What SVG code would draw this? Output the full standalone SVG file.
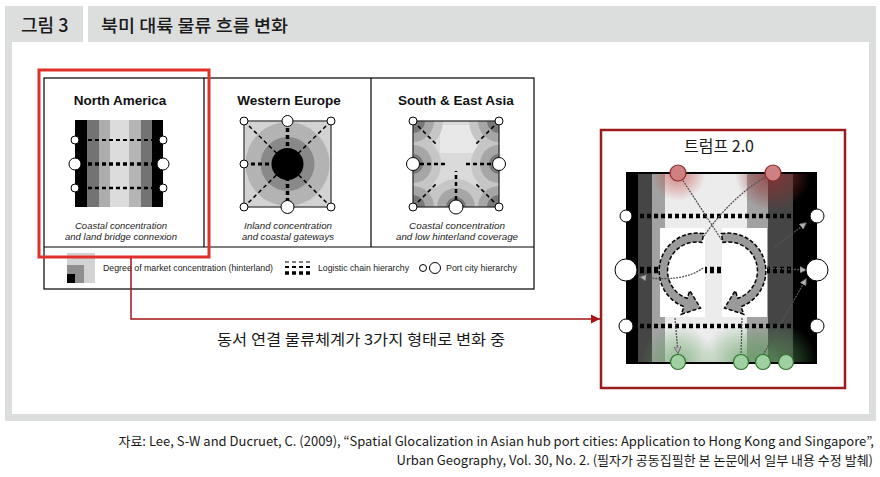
<svg xmlns="http://www.w3.org/2000/svg" width="880" height="477" viewBox="0 0 880 477">
<style>
.lat{font-family:"Liberation Sans",Arial,sans-serif}
.ttl{font-family:"Liberation Sans",Arial,sans-serif;font-weight:700;font-size:13.5px;fill:#111}
.cap{font-family:"Liberation Sans",Arial,sans-serif;font-style:italic;font-size:9px;fill:#222}
.leg{font-family:"Liberation Sans",Arial,sans-serif;font-size:9px;fill:#222}
.kr{font-family:"Noto Sans CJK KR","Noto Sans",sans-serif;fill:#1a1a1a}
.wc{fill:#fff;stroke:#000;stroke-width:1}
.ds{fill:none;stroke:#000;stroke-dasharray:4 3}
.thin{fill:none;stroke:#555;stroke-width:1.3;stroke-dasharray:2 1}
.rc{fill:#cf8080;stroke:#8a2a2a;stroke-width:1.2}
.gc{fill:#9fd09f;stroke:#2f6f2f;stroke-width:1.2}
.arc{fill:#9a9a9a;stroke:#000;stroke-width:1.5;stroke-dasharray:4 2}
</style>
<defs>
<radialGradient id="rh"><stop offset="0" stop-color="#c0504d" stop-opacity="0.7"/><stop offset="0.6" stop-color="#c0504d" stop-opacity="0.3"/><stop offset="1" stop-color="#c0504d" stop-opacity="0"/></radialGradient>
<radialGradient id="rh2"><stop offset="0" stop-color="#8e3030" stop-opacity="0.8"/><stop offset="0.6" stop-color="#8e3030" stop-opacity="0.4"/><stop offset="1" stop-color="#8e3030" stop-opacity="0"/></radialGradient>
<radialGradient id="gh"><stop offset="0" stop-color="#5a9a5a" stop-opacity="0.65"/><stop offset="0.6" stop-color="#5a9a5a" stop-opacity="0.3"/><stop offset="1" stop-color="#5a9a5a" stop-opacity="0"/></radialGradient>
<clipPath id="tb"><rect x="626" y="173" width="191" height="190"/></clipPath>
<clipPath id="sa"><rect x="413" y="121" width="86" height="86"/></clipPath>
<marker id="ga" viewBox="0 0 10 10" refX="9" refY="5" markerWidth="7" markerHeight="7" markerUnits="userSpaceOnUse" orient="auto"><path d="M0,0 L10,5 L0,10 Z" fill="#b0b0b0" stroke="#555" stroke-width="1"/></marker>
<marker id="ra" viewBox="0 0 10 10" refX="10" refY="5" markerWidth="9" markerHeight="15" markerUnits="userSpaceOnUse" orient="auto"><path d="M0,0 L10,5 L0,10 Z" fill="#a31515"/></marker>
</defs>

<g id="frame">
<rect x="5" y="6" width="871" height="415" fill="#dcdddd"/>
<rect x="12" y="42" width="857" height="372" fill="#fff"/>
<rect x="83" y="6" width="5" height="36" fill="#fff"/>
<text class="kr" x="21" y="32" font-size="18" font-weight="500">그림 3</text>
<text class="kr" x="101" y="32" font-size="17" font-weight="500" textLength="187" lengthAdjust="spacingAndGlyphs">북미 대륙 물류 흐름 변화</text>
</g>

<g id="models">
<rect x="44" y="78" width="490" height="211" fill="#fff" stroke="#000" stroke-width="1.2"/>
<line x1="204" y1="78" x2="204" y2="247" stroke="#000" stroke-width="1.2"/>
<line x1="371" y1="78" x2="371" y2="247" stroke="#000" stroke-width="1.2"/>
<line x1="44" y1="247" x2="534" y2="247" stroke="#000" stroke-width="1.2"/>
</g>

<g id="north-america">
<text class="ttl" x="120" y="105" text-anchor="middle">North America</text>
<rect x="75" y="120" width="12" height="87" fill="#000"/>
<rect x="87" y="120" width="12" height="87" fill="#737373"/>
<rect x="99" y="120" width="11" height="87" fill="#adadad"/>
<rect x="110" y="120" width="19" height="87" fill="#dcdcdc"/>
<rect x="129" y="120" width="12" height="87" fill="#b5b5b5"/>
<rect x="141" y="120" width="11" height="87" fill="#737373"/>
<rect x="152" y="120" width="11" height="87" fill="#000"/>
<line class="ds" x1="88" y1="140" x2="152" y2="140" stroke-width="1.8"/>
<line class="ds" x1="88" y1="164" x2="152" y2="164" stroke-width="3.5"/>
<line class="ds" x1="88" y1="188" x2="152" y2="188" stroke-width="2.5"/>
<circle class="wc" cx="75" cy="140" r="4"/><circle class="wc" cx="163" cy="140" r="4"/>
<circle class="wc" cx="75" cy="164" r="6"/><circle class="wc" cx="163" cy="164" r="6"/>
<circle class="wc" cx="75" cy="188" r="4"/><circle class="wc" cx="163" cy="188" r="4"/>
<text class="cap" x="121" y="229" text-anchor="middle" textLength="92" lengthAdjust="spacingAndGlyphs">Coastal concentration</text>
<text class="cap" x="121" y="240" text-anchor="middle" textLength="112" lengthAdjust="spacingAndGlyphs">and land bridge connexion</text>
</g>

<g id="western-europe">
<text class="ttl" x="289" y="105" text-anchor="middle">Western Europe</text>
<rect x="244" y="121" width="87" height="86" fill="#d2d2d2" stroke="#555" stroke-width="1.5"/>
<circle cx="287.5" cy="164" r="42" fill="#b3b3b3"/>
<circle cx="287.5" cy="164" r="27" fill="#898989"/>
<circle cx="287.5" cy="164" r="16" fill="#000"/>
<line class="ds" x1="244" y1="121" x2="331" y2="207" stroke-width="1.5" stroke-dasharray="3 2.5"/>
<line class="ds" x1="331" y1="121" x2="244" y2="207" stroke-width="1.5" stroke-dasharray="3 2.5"/>
<line class="ds" x1="287.5" y1="121" x2="287.5" y2="207" stroke-width="3.5"/>
<line class="ds" x1="244" y1="164" x2="271" y2="164" stroke-width="3"/>
<circle class="wc" cx="244" cy="121" r="4"/><circle class="wc" cx="331" cy="121" r="4"/>
<circle class="wc" cx="244" cy="207" r="4"/><circle class="wc" cx="331" cy="207" r="4"/>
<circle class="wc" cx="287.5" cy="121" r="5.5"/><circle class="wc" cx="287.5" cy="207" r="6.5"/>
<circle class="wc" cx="244" cy="164" r="4"/>
<text class="cap" x="288" y="229" text-anchor="middle" textLength="88" lengthAdjust="spacingAndGlyphs">Inland concentration</text>
<text class="cap" x="288" y="240" text-anchor="middle" textLength="92" lengthAdjust="spacingAndGlyphs">and coastal gateways</text>
</g>

<g id="south-east-asia">
<text class="ttl" x="456" y="105" text-anchor="middle">South &amp; East Asia</text>
<rect x="413" y="121" width="86" height="86" fill="#dadada"/>
<rect x="440" y="125" width="37" height="28" fill="#e8e8e8"/>
<g clip-path="url(#sa)">
<g fill="#c6c6c6"><circle cx="413" cy="121" r="30"/><circle cx="499" cy="121" r="30"/><circle cx="413" cy="207" r="30"/><circle cx="499" cy="207" r="30"/><circle cx="413" cy="164" r="28"/><circle cx="499" cy="164" r="28"/><circle cx="456" cy="207" r="28"/></g>
<g fill="#a6a6a6"><circle cx="413" cy="121" r="21"/><circle cx="499" cy="121" r="21"/><circle cx="413" cy="207" r="21"/><circle cx="499" cy="207" r="21"/><circle cx="413" cy="164" r="19"/><circle cx="499" cy="164" r="19"/><circle cx="456" cy="207" r="19"/></g>
<g fill="#787878"><circle cx="413" cy="121" r="12"/><circle cx="499" cy="121" r="12"/><circle cx="413" cy="207" r="12"/><circle cx="499" cy="207" r="12"/><circle cx="413" cy="164" r="10"/><circle cx="499" cy="164" r="10"/><circle cx="456" cy="207" r="10"/></g>
</g>
<rect x="413" y="121" width="86" height="86" fill="none" stroke="#222" stroke-width="1.2"/>
<line class="ds" x1="413" y1="121" x2="437" y2="145" stroke-width="1.6" stroke-dasharray="3 2"/>
<line class="ds" x1="499" y1="121" x2="475" y2="145" stroke-width="1.6" stroke-dasharray="3 2"/>
<line class="ds" x1="413" y1="207" x2="437" y2="183" stroke-width="1.6" stroke-dasharray="3 2"/>
<line class="ds" x1="499" y1="207" x2="475" y2="183" stroke-width="1.6" stroke-dasharray="3 2"/>
<line class="ds" x1="413" y1="164" x2="446" y2="164" stroke-width="2.5"/>
<line class="ds" x1="466" y1="164" x2="499" y2="164" stroke-width="2.5"/>
<line class="ds" x1="456" y1="207" x2="456" y2="171" stroke-width="2.5"/>
<circle class="wc" cx="413" cy="121" r="4"/><circle class="wc" cx="499" cy="121" r="4"/>
<circle class="wc" cx="413" cy="207" r="4"/><circle class="wc" cx="499" cy="207" r="4"/>
<circle class="wc" cx="413" cy="164" r="6.5"/><circle class="wc" cx="499" cy="164" r="6.5"/>
<circle class="wc" cx="456" cy="207" r="7"/>
<text class="cap" x="457" y="229" text-anchor="middle" textLength="96" lengthAdjust="spacingAndGlyphs">Coastal concentration</text>
<text class="cap" x="457" y="240" text-anchor="middle" textLength="122" lengthAdjust="spacingAndGlyphs">and low hinterland coverage</text>
</g>

<g id="legend">
<rect x="67" y="253" width="28" height="30" fill="#d3d3d3"/>
<rect x="67" y="265" width="17" height="18" fill="#8f8f8f"/>
<rect x="67" y="274" width="8" height="9" fill="#000"/>
<text class="leg" x="103" y="271" textLength="170" lengthAdjust="spacingAndGlyphs">Degree of market concentration (hinterland)</text>
<line class="ds" x1="285" y1="262" x2="311" y2="262" stroke-width="1.2"/>
<line class="ds" x1="285" y1="267" x2="311" y2="267" stroke-width="2"/>
<line class="ds" x1="285" y1="273" x2="311" y2="273" stroke-width="3.5"/>
<text class="leg" x="318" y="271" textLength="91" lengthAdjust="spacingAndGlyphs">Logistic chain hierarchy</text>
<circle class="wc" cx="423" cy="268" r="3.5"/>
<circle class="wc" cx="435" cy="268" r="5.5"/>
<text class="leg" x="446" y="271" textLength="71" lengthAdjust="spacingAndGlyphs">Port city hierarchy</text>
</g>

<g id="highlight">
<rect x="39" y="70" width="170" height="187" fill="none" stroke="#e0302a" stroke-width="3"/>
</g>

<g id="connectors">
<path d="M131,258 V319 H600" fill="none" stroke="#a31515" stroke-width="1.5" marker-end="url(#ra)"/>
</g>
<text class="kr" x="361" y="345" font-size="15" text-anchor="middle" textLength="288" lengthAdjust="spacingAndGlyphs">동서 연결 물류체계가 3가지 형태로 변화 중</text>

<g id="trump">
<rect x="601" y="130" width="244" height="258" fill="#fff" stroke="#9b1c1c" stroke-width="2.5"/>
<text class="kr" x="719" y="152" font-size="16" text-anchor="middle">트럼프 2.0</text>
<rect x="626" y="173" width="12" height="190" fill="#000"/>
<rect x="638" y="173" width="14" height="190" fill="#454545"/>
<rect x="652" y="173" width="13" height="190" fill="#a2a2a2"/>
<rect x="665" y="173" width="82" height="190" fill="#ececec"/>
<rect x="747" y="173" width="21" height="190" fill="#a2a2a2"/>
<rect x="768" y="173" width="25" height="190" fill="#454545"/>
<rect x="793" y="173" width="24" height="190" fill="#000"/>
<g clip-path="url(#tb)">
<circle cx="678" cy="173" r="28" fill="url(#rh)"/>
<circle cx="773" cy="173" r="38" fill="url(#rh2)"/>
<circle cx="678" cy="363" r="38" fill="url(#gh)"/>
<circle cx="741" cy="363" r="40" fill="url(#gh)"/>
<circle cx="775" cy="363" r="42" fill="url(#gh)"/>
</g>
<line x1="626" y1="173" x2="817" y2="173" stroke="#000" stroke-width="2"/>
<line x1="626" y1="363" x2="817" y2="363" stroke="#000" stroke-width="2"/>
<line class="ds" x1="640" y1="216" x2="812" y2="216" stroke-width="4.5" stroke-dasharray="8 6"/>
<line class="ds" x1="640" y1="270" x2="812" y2="270" stroke-width="6.5" stroke-dasharray="9 5"/>
<line class="ds" x1="640" y1="326" x2="812" y2="326" stroke-width="4.5" stroke-dasharray="8 6"/>
<rect x="660" y="228" width="45" height="89" fill="#fff"/>
<rect x="722" y="228" width="45" height="89" fill="#fff"/>
<path class="arc" d="M703.6,233.6 A38,38 0 0 0 684,306.7 L681.3,314.2 L700.5,308 L689.8,290.7 L687.1,298.3 A29,29 0 0 1 702,242.4 Z"/>
<path class="arc" d="M721.4,233.6 A38,38 0 0 1 741,306.7 L743.7,314.2 L724.5,308 L735.2,290.7 L737.9,298.3 A29,29 0 0 0 723,242.4 Z"/>
<path class="thin" d="M678,173 L723,242"/>
<path class="thin" d="M773,173 Q735,192 704,236"/>
<path class="thin" d="M703,268 Q683,283 640,277" marker-end="url(#ga)"/>
<path class="thin" d="M767,268 L806,270" marker-end="url(#ga)"/>
<path class="thin" d="M763,355 L806,279" marker-end="url(#ga)"/>
<path class="thin" d="M775,247 L806,223" marker-end="url(#ga)"/>
<path class="thin" d="M675,318 L678,353" marker-end="url(#ga)"/>
<path class="thin" d="M742,318 L741,355"/>
<circle class="rc" cx="678" cy="173" r="8"/>
<circle class="rc" cx="773" cy="173" r="8"/>
<circle class="wc" cx="626" cy="216" r="6"/><circle class="wc" cx="817" cy="216" r="7"/>
<circle class="wc" cx="626" cy="270" r="11"/><circle class="wc" cx="817" cy="270" r="11"/>
<circle class="wc" cx="626" cy="326" r="7"/><circle class="wc" cx="817" cy="326" r="7"/>
<circle class="gc" cx="678" cy="362" r="7.5"/>
<circle class="gc" cx="741" cy="362" r="7.5"/>
<circle class="gc" cx="763" cy="362" r="7.5"/>
<circle class="gc" cx="786" cy="362" r="7.5"/>
</g>

<g id="source">
<text class="kr" x="874" y="446" font-size="13" text-anchor="end">자료: Lee, S-W and Ducruet, C. (2009), “Spatial Glocalization in Asian hub port cities: Application to Hong Kong and Singapore”,</text>
<text class="kr" x="873" y="465" font-size="13" text-anchor="end">Urban Geography, Vol. 30, No. 2. (필자가 공동집필한 본 논문에서 일부 내용 수정 발췌)</text>
</g>
</svg>
